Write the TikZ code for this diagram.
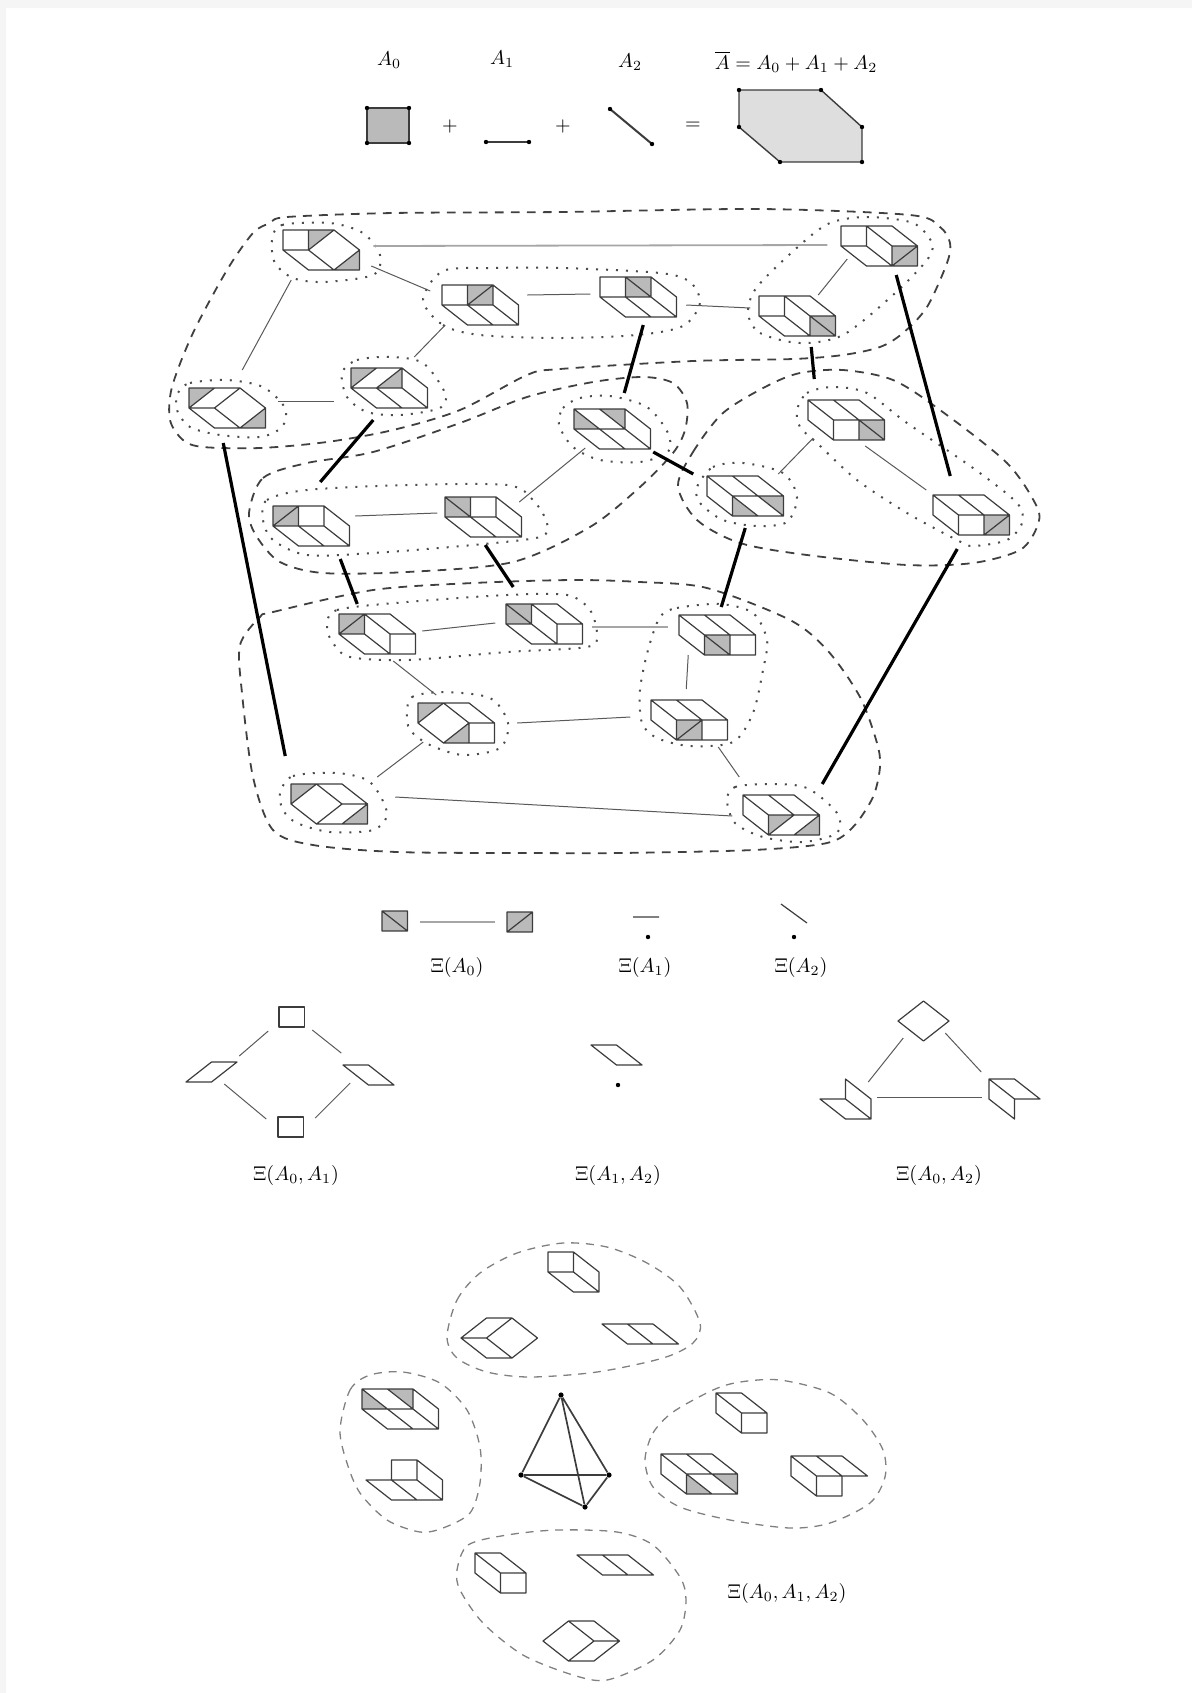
\documentclass[tikz,border=0pt]{standalone}
\usepackage{amsmath,amssymb}
\usepackage{xcolor}
\usetikzlibrary{calc}
\definecolor{tilegray}{HTML}{BABABA}
\definecolor{zonegray}{HTML}{DEDEDE}
\definecolor{inkx}{HTML}{3C3C3C}
\definecolor{edgex}{HTML}{F5F5F5}
\tikzset{
  tilefill/.style={fill=tilegray},
  tileline/.style={draw=inkx,line width=.6pt,line join=round},
  tilecentre/.style={inner sep=0pt,minimum size=0pt},
  thinlink/.style={draw=black!65,line width=.5pt},
  palelink/.style={draw=black!35,line width=.9pt},
  fatlink/.style={draw=black,line width=1.6pt},
  dotring/.style={draw=black!70,line width=1pt,dash pattern=on 1pt off 4pt},
  dashring/.style={draw=black!75,line width=.9pt,dash pattern=on 4.4pt off 3.6pt},
  paledash/.style={draw=black!50,line width=.65pt,dash pattern=on 4pt off 3.4pt},
  vdot/.style={circle,fill=black,inner sep=0pt,minimum size=2.6pt},
  lab/.style={inner sep=0pt}
}
% one tile of the subdivision: [outline]{name}{origin}{gray parts}{inner lines}
\newcommand{\tile}[5][(0,0)--(2,0)--(3,1)--(3,2)--(1,2)--(0,1)--cycle]{%
  \begin{scope}[shift={(#3)},x=12.75pt,y=-10pt]
    \fill[tilefill] #4;
    \draw[tileline] #1 #5;
    \node[tilecentre] (#2) at (1.5,1) {};
  \end{scope}}

\begin{document}
\begin{tikzpicture}[x=.5pt,y=-.5pt]
\useasboundingbox (0,0) rectangle (1192,1693);
\fill[edgex] (0,0) rectangle (1192,8) (0,8) rectangle (6,1693);
% summands
\node[lab] (la0) at (389,60) {$A_0$};
\node[lab] (la1) at (502,59) {$A_1$};
\node[lab] (la2) at (630,62) {$A_2$};
\node[lab] (lsum) at (796,62) {$\overline{A}=A_0+A_1+A_2$};
\draw[fill=tilegray,line width=1pt,draw=inkx] (367,108) rectangle (409,143);
\node[lab] (plusa) at (450,126) {$+$};
\draw[line width=.9pt,draw=inkx] (486,142) -- (529,142);
\node[lab] (plusb) at (563,126) {$+$};
\draw[line width=1pt,draw=inkx] (610,109) -- (652,144);
\node[lab] (eqs) at (693,126) {$=$};
\draw[fill=zonegray,line width=.7pt,draw=inkx] (739,90) -- (821,90) -- (862,127) -- (862,162) -- (780,162) -- (739,127) -- cycle;
\foreach \p in {(367,108),(409,108),(367,143),(409,143),(486,142),(529,142),(610,109),(652,144),
  (739,90),(821,90),(862,127),(862,162),(780,162),(739,127)}{\fill \p circle (1.1pt);}
% the tiles
\tile{t1}{283,230}{(1,0)--(2,0)--(1,1)--cycle (3,1)--(3,2)--(2,2)--cycle}{(1,0)--(1,1) (0,1)--(1,1) (1,1)--(2,0) (1,1)--(2,2) (2,2)--(3,1)}
\tile{t2}{442,285}{(1,0)--(2,0)--(2,1)--(1,1)--cycle}{(1,0)--(1,1) (2,0)--(2,1) (0,1)--(2,1) (1,1)--(2,0) (1,1)--(2,2) (2,1)--(3,2)}
\tile{t3}{600,277}{(1,0)--(2,0)--(2,1)--(1,1)--cycle}{(1,0)--(1,1) (2,0)--(2,1) (0,1)--(2,1) (1,0)--(2,1) (1,1)--(2,2) (2,1)--(3,2)}
\tile{t4}{759,296}{(2,1)--(3,1)--(3,2)--(2,2)--cycle}{(1,0)--(1,1) (0,1)--(1,1) (1,0)--(2,1) (1,1)--(2,2) (2,1)--(3,1) (2,1)--(2,2) (2,1)--(3,2)}
\tile{t5}{841,226}{(2,1)--(3,1)--(3,2)--(2,2)--cycle}{(1,0)--(1,1) (0,1)--(1,1) (1,0)--(2,1) (1,1)--(2,2) (2,1)--(3,1) (2,1)--(2,2) (2,2)--(3,1)}
\tile{t6}{189,388}{(0,0)--(1,0)--(0,1)--cycle (3,1)--(3,2)--(2,2)--cycle}{(0,1)--(1,0) (0,1)--(1,1) (1,1)--(2,0) (1,1)--(2,2) (2,2)--(3,1)}
\tile{t7}{351,368}{(0,0)--(1,0)--(0,1)--cycle (2,0)--(2,1)--(1,1)--cycle}{(0,1)--(1,0) (0,1)--(2,1) (1,1)--(2,0) (2,0)--(2,1) (1,1)--(2,2) (2,1)--(3,2)}
\tile{t8}{574,409}{(0,0)--(1,1)--(0,1)--cycle (1,0)--(2,0)--(2,1)--cycle}{(0,0)--(1,1) (1,0)--(2,1) (0,1)--(2,1) (2,0)--(2,1) (1,1)--(2,2) (2,1)--(3,2)}
\tile{t9}{808,400}{(2,1)--(3,1)--(3,2)--(2,2)--cycle}{(0,0)--(1,1) (1,0)--(2,1) (1,1)--(3,1) (1,1)--(1,2) (2,1)--(2,2) (2,1)--(3,2)}
\tile{t10}{707,476}{(1,1)--(1,2)--(2,2)--cycle (2,1)--(3,1)--(3,2)--cycle}{(0,0)--(1,1) (1,0)--(2,1) (1,1)--(3,1) (1,1)--(1,2) (1,1)--(2,2) (2,1)--(3,2)}
\tile{t11}{933,495}{(2,1)--(3,1)--(3,2)--(2,2)--cycle}{(0,0)--(1,1) (1,0)--(2,1) (1,1)--(3,1) (1,1)--(1,2) (2,1)--(2,2) (2,2)--(3,1)}
\tile{t12}{273,506}{(0,0)--(1,0)--(1,1)--(0,1)--cycle}{(0,1)--(1,0) (1,0)--(1,1) (2,0)--(2,1) (0,1)--(2,1) (1,1)--(2,2) (2,1)--(3,2)}
\tile{t13}{445,497}{(0,0)--(1,0)--(1,1)--(0,1)--cycle}{(0,0)--(1,1) (1,0)--(1,1) (2,0)--(2,1) (0,1)--(2,1) (1,1)--(2,2) (2,1)--(3,2)}
\tile{t14}{339,614}{(0,0)--(1,0)--(1,1)--(0,1)--cycle}{(0,1)--(1,0) (1,0)--(1,1) (0,1)--(1,1) (1,0)--(2,1) (1,1)--(2,2) (2,1)--(3,1) (2,1)--(2,2)}
\tile{t15}{506,604}{(0,0)--(1,0)--(1,1)--(0,1)--cycle}{(0,0)--(1,1) (1,0)--(1,1) (0,1)--(1,1) (1,0)--(2,1) (1,1)--(2,2) (2,1)--(3,1) (2,1)--(2,2)}
\tile{t16}{679,615}{(1,1)--(2,1)--(2,2)--(1,2)--cycle}{(0,0)--(1,1) (1,0)--(2,1) (1,1)--(3,1) (1,1)--(1,2) (2,1)--(2,2) (1,1)--(2,2)}
\tile{t17}{651,700}{(1,1)--(2,1)--(2,2)--(1,2)--cycle}{(0,0)--(1,1) (1,0)--(2,1) (1,1)--(3,1) (1,1)--(1,2) (2,1)--(2,2) (1,2)--(2,1)}
\tile{t18}{418,703}{(0,0)--(1,0)--(0,1)--cycle (2,1)--(2,2)--(1,2)--cycle}{(0,1)--(1,0) (1,0)--(2,1) (1,2)--(2,1) (2,1)--(3,1) (2,1)--(2,2)}
\tile{t19}{291,784}{(0,0)--(1,0)--(0,1)--cycle (3,1)--(3,2)--(2,2)--cycle}{(0,1)--(1,0) (1,0)--(2,1) (1,2)--(2,1) (2,1)--(3,1) (2,2)--(3,1)}
\tile{t20}{743,795}{(1,1)--(2,1)--(1,2)--cycle (3,1)--(3,2)--(2,2)--cycle}{(0,0)--(1,1) (1,0)--(2,1) (1,1)--(3,1) (1,1)--(1,2) (1,2)--(2,1) (2,2)--(3,1)}
% rings
\draw[dotring] plot[smooth cycle] coordinates {(272,240)(282,225)(330,223)(363,233)(380,255)(373,275)(323,282)(293,278)(275,263)};
\draw[dotring] plot[smooth cycle] coordinates {(423,300)(443,325)(480,335)(560,338)(637,335)(683,326)(700,303)(690,282)(660,273)(563,268)(493,268)(443,271)};
\draw[dotring] plot[smooth cycle] coordinates {(748,313)(760,333)(800,343)(843,335)(893,295)(927,260)(932,243)(913,223)(867,217)(830,223)(800,245)(757,287)};
\draw[dotring] plot[smooth cycle] coordinates {(178,393)(190,383)(227,380)(263,387)(285,408)(282,427)(260,437)(220,435)(190,427)(177,410)};
\draw[dotring] plot[smooth cycle] coordinates {(342,373)(357,360)(390,357)(423,363)(445,393)(440,408)(400,415)(367,412)(347,397)};
\draw[dotring] plot[smooth cycle] coordinates {(559,425)(563,408)(580,398)(610,396)(647,407)(668,433)(668,452)(640,462)(600,460)(573,447)};
\draw[dotring] plot[smooth cycle] coordinates {(697,487)(713,467)(743,463)(783,473)(797,497)(787,522)(757,526)(723,520)(700,503)};
\draw[dotring] plot[smooth cycle] coordinates {(797,410)(807,393)(833,387)(867,393)(907,423)(973,468)(1017,503)(1022,523)(1007,540)(973,546)(957,540)(907,513)(857,480)(817,443)(800,427)};
\draw[dotring] plot[smooth cycle] coordinates {(263,520)(267,500)(307,490)(407,485)(507,485)(533,500)(547,523)(540,537)(473,545)(373,553)(307,555)(273,540)};
\draw[dotring] plot[smooth cycle] coordinates {(327,627)(337,610)(407,602)(507,595)(567,595)(590,610)(597,635)(587,647)(507,652)(407,660)(350,657)(333,643)};
\draw[dotring] plot[smooth cycle] coordinates {(660,617)(677,608)(720,604)(753,613)(767,640)(763,670)(753,713)(733,742)(690,746)(657,738)(642,723)(640,690)(648,650)};
\draw[dotring] plot[smooth cycle] coordinates {(407,713)(412,697)(443,692)(490,698)(508,723)(500,748)(463,755)(430,745)(410,730)};
\draw[dotring] plot[smooth cycle] coordinates {(280,793)(293,776)(337,773)(370,782)(387,813)(373,830)(330,832)(297,823)(283,810)};
\draw[dotring] plot[smooth cycle] coordinates {(727,800)(735,787)(770,784)(807,788)(837,813)(837,833)(803,842)(763,837)(735,823)};
\draw[dashring] plot[smooth cycle] coordinates {(270,223)(287,217)(393,213)(560,212)(760,209)(910,215)(940,227)(950,243)(947,263)(927,307)(903,333)(880,347)(843,355)(793,359)(693,361)(560,369)(527,375)(460,410)(393,430)(327,442)(260,448)(203,447)(183,440)(170,420)(172,387)(193,333)(227,270)(253,233)};
\draw[dashring] plot[smooth cycle] coordinates {(249,513)(263,478)(307,463)(373,452)(460,423)(527,397)(593,382)(643,377)(673,383)(687,403)(685,430)(673,453)(640,487)(590,527)(513,562)(407,572)(323,573)(280,562)(257,537)};
\draw[dashring] plot[smooth cycle] coordinates {(678,486)(693,452)(723,413)(767,386)(800,373)(843,370)(893,380)(940,410)(1007,463)(1037,507)(1037,527)(1020,550)(973,563)(907,565)(807,555)(740,543)(697,520)};
\draw[dashring] plot[smooth cycle] coordinates {(260,617)(273,612)(373,590)(473,583)(573,580)(640,582)(707,588)(790,620)(828,651)(860,697)(877,743)(880,767)(873,797)(853,827)(827,843)(753,850)(620,853)(530,853)(397,852)(313,845)(273,830)(253,777)(242,693)(240,645)};
% thin and thick links
\foreach \p/\px/\py/\q/\qx/\qy in {t1/50/16/t2/-50/-14,t1/-30/30/t6/15/-38,t2/47/-10/t3/-48/-3,t2/-35/20/t7/25/-31,t3/48/8/t4/-47/-8,t4/21/-21/t5/-32/13,t6/51/-7/t7/-55/13,t8/-27/19/t13/36/-15,t12/44/-10/t13/-46/-4,t9/-33/18/t10/33/-22,t9/19/26/t11/-45/-25,t14/45/-3/t15/-49/-1,t14/16/27/t18/-20/-28,t16/-29/20/t17/-3/-31,t18/61/0/t17/-59/-3,t18/-33/19/t19/48/-27,t17/29/27/t20/-42/-38,t19/66/-7/t20/-49/1}
  {\draw[thinlink] ([shift={(\px,\py)}]\p.center) -- ([shift={(\qx,\qy)}]\q.center);}
\foreach \p/\px/\py/\q/\qx/\qy in {t1/52/-4/t5/-52/-1,t15/48/3/t16/-49/-8}
  {\draw[palelink] ([shift={(\px,\py)}]\p.center) -- ([shift={(\qx,\qy)}]\q.center);}
\foreach \p/\px/\py/\q/\qx/\qy in {t6/-4/35/t19/-44/-48,t7/-16/32/t12/9/-44,t3/5/28/t8/12/-36,t4/14/31/t9/-32/-41,t5/17/29/t11/-21/-39,t8/41/23/t10/-52/-22,t12/29/33/t14/-20/-30,t13/2/28/t15/-31/-37,t10/0/32/t16/4/-28,t11/-14/34/t20/41/-31}
  {\draw[fatlink] ([shift={(\px,\py)}]\p.center) -- ([shift={(\qx,\qy)}]\q.center);}
% first row of small complexes
\tile[(0,0) rectangle (1,1)]{s1}{382,911}{(0,0) rectangle (1,1)}{(0,0)--(1,1)}
\tile[(0,0) rectangle (1,1)]{s2}{507,912}{(0,0) rectangle (1,1)}{(0,1)--(1,0)}
\draw[palelink,line width=1pt] ([shift={(0,-9)}]s1.center) -- ([shift={(-50,-10)}]s2.center);
\draw[tileline] (633,917) -- (659,917) (781,904) -- (807,923);
\foreach \p in {(648,937),(794,937)}{\fill \p circle (1.1pt);}
\node[lab] (lx0) at (457,967) {$\Xi(A_0)$};
\node[lab] (lx1) at (645,967) {$\Xi(A_1)$};
\node[lab] (lx2) at (801,967) {$\Xi(A_2)$};
% second row
\tile[(0,0) rectangle (1,1)]{q1}{279,1007}{}{}
\tile[(0,0) rectangle (1,1)]{q2}{278,1117}{}{}
\tile[(0,1)--(1,1)--(2,0)--(1,0)--cycle]{p1}{186,1062}{}{}
\tile[(0,0)--(1,0)--(2,1)--(1,1)--cycle]{p2}{343,1065}{}{}
\tile[(0,0)--(1,0)--(2,1)--(1,1)--cycle]{p3}{591,1045}{}{}
\fill (618,1085) circle (1.1pt);
\tile[(0,1)--(1,0)--(2,1)--(1,2)--cycle]{d1}{898,1001}{}{}
\tile[(1,0)--(2,1)--(2,2)--(1,2)--(0,1)--(1,1)--cycle]{m1}{820,1079}{}{(1,1)--(2,2)}
\tile[(0,0)--(1,0)--(2,1)--(1,1)--(1,2)--(0,1)--cycle]{m2}{989,1079}{}{(0,0)--(1,1)}
\foreach \p/\px/\py/\q/\qx/\qy in {q1/-49/4/p1/15/-26,q1/-5/3/p2/-40/-32,p1/0/2/q2/-50/-18,p2/-31/-2/q2/-1/-19,d1/-33/17/m1/10/-17,d1/9/12/m2/-46/-27,m1/19/-2/m2/-45/-2}
  {\draw[thinlink] ([shift={(\px,\py)}]\p.center) -- ([shift={(\qx,\qy)}]\q.center);}
\node[lab] (lx01) at (296,1175) {$\Xi(A_0,A_1)$};
\node[lab] (lx12) at (618,1175) {$\Xi(A_1,A_2)$};
\node[lab] (lx02) at (939,1175) {$\Xi(A_0,A_2)$};
% the last complex
\tile[(0,0)--(1,0)--(2,1)--(2,2)--(1,2)--(0,1)--cycle]{b1}{548,1252}{}{(1,0)--(1,1) (0,1)--(1,1) (1,1)--(2,2)}
\tile[(0,1)--(1,0)--(2,0)--(3,1)--(2,2)--(1,2)--cycle]{b2}{461,1318}{}{(0,1)--(1,1) (1,1)--(2,0) (1,1)--(2,2)}
\tile[(0,0)--(2,0)--(3,1)--(1,1)--cycle]{b3}{602,1324}{}{(1,0)--(2,1)}
\tile{b4}{362,1389}{(0,0)--(1,1)--(0,1)--cycle (1,0)--(2,0)--(2,1)--cycle}{(0,0)--(1,1) (1,0)--(2,1) (0,1)--(2,1) (2,0)--(2,1) (1,1)--(2,2) (2,1)--(3,2)}
\tile[(1,0)--(2,0)--(3,1)--(3,2)--(1,2)--(0,1)--(1,1)--cycle]{b5}{366,1460}{}{(2,0)--(2,1) (1,1)--(2,1) (1,1)--(2,2) (2,1)--(3,2)}
\tile[(0,0)--(1,0)--(2,1)--(2,2)--(1,2)--(0,1)--cycle]{b6}{716,1393}{}{(0,0)--(1,1) (1,1)--(2,1) (1,1)--(1,2)}
\tile{b7}{661,1454}{(1,1)--(1,2)--(2,2)--cycle (2,1)--(3,1)--(3,2)--cycle}{(0,0)--(1,1) (1,0)--(2,1) (1,1)--(3,1) (1,1)--(1,2) (1,1)--(2,2) (2,1)--(3,2)}
\tile[(0,0)--(2,0)--(3,1)--(2,1)--(2,2)--(1,2)--(0,1)--cycle]{b8}{791,1456}{}{(0,0)--(1,1) (1,0)--(2,1) (1,1)--(2,1) (1,1)--(1,2)}
\tile[(0,0)--(1,0)--(2,1)--(2,2)--(1,2)--(0,1)--cycle]{b9}{475,1553}{}{(0,0)--(1,1) (1,1)--(2,1) (1,1)--(1,2)}
\tile[(0,0)--(2,0)--(3,1)--(1,1)--cycle]{b10}{577,1555}{}{(1,0)--(2,1)}
\tile[(0,1)--(1,0)--(2,0)--(3,1)--(2,2)--(1,2)--cycle]{b11}{543,1621}{}{(1,0)--(2,1) (2,1)--(3,1) (2,1)--(1,2)}
\draw[paledash] plot[smooth cycle] coordinates {(447,1337)(457,1300)(480,1273)(517,1253)(563,1243)(607,1247)(647,1263)(680,1287)(700,1323)(693,1343)(663,1358)(597,1372)(530,1377)(487,1372)(457,1358)};
\draw[paledash] plot[smooth cycle] coordinates {(340,1430)(350,1390)(370,1375)(403,1372)(440,1383)(467,1410)(480,1447)(480,1483)(470,1513)(443,1528)(420,1532)(387,1520)(360,1493)(347,1463)};
\draw[paledash] plot[smooth cycle] coordinates {(645,1460)(653,1433)(673,1412)(713,1390)(740,1382)(780,1380)(830,1393)(863,1420)(883,1450)(885,1477)(870,1503)(830,1523)(790,1528)(730,1520)(680,1507)(653,1487)};
\draw[paledash] plot[smooth cycle] coordinates {(457,1570)(468,1545)(507,1535)(557,1530)(617,1532)(653,1545)(680,1577)(686,1600)(680,1630)(653,1660)(607,1680)(573,1675)(523,1655)(483,1623)(460,1590)};
\node[vdot] (v1) at (561,1395) {};
\node[vdot] (v2) at (521,1475) {};
\node[vdot] (v3) at (609,1475) {};
\node[vdot] (v4) at (585,1507) {};
\draw[tileline,line width=.85pt] (v1) -- (v2) (v1) -- (v3) (v1) -- (v4) (v2) -- (v3) (v2) -- (v4) (v3) -- (v4);
\node[lab] (lx012) at (787,1593) {$\Xi(A_0,A_1,A_2)$};
\end{tikzpicture}
\end{document}
